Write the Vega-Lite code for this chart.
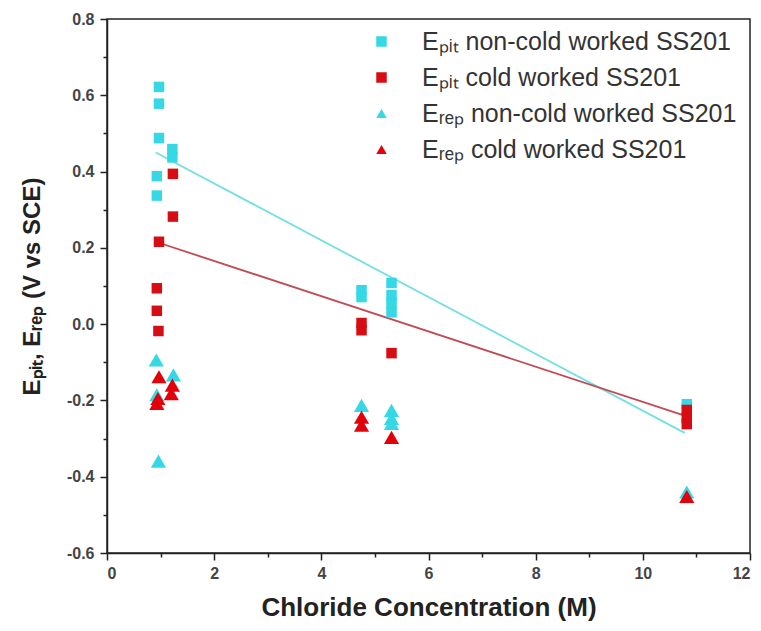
{
  "$schema": "https://vega.github.io/schema/vega-lite/v6.json",
  "autosize": {"type": "none"},
  "padding": {"left": 107, "top": 19, "right": 11, "bottom": 78},
  "width": 643,
  "height": 534,
  "background": "white",
  "config": {
    "view": {"stroke": "#222", "strokeWidth": 1.5},
    "axis": {"grid": false, "domainColor": "#222", "domainWidth": 1.5, "tickColor": "#222", "tickWidth": 1.5, "labelColor": "#444", "labelFont": "Liberation Sans", "labelFontWeight": "bold", "labelFontSize": 16, "titleFont": "Liberation Sans", "titleFontWeight": "bold", "titleColor": "#222"},
    "legend": {"orient": "none", "legendX": 262, "legendY": 10, "title": null, "labelFont": "Liberation Sans", "labelFontSize": 25, "labelColor": "#333", "labelOffset": 28, "rowPadding": 10, "symbolSize": 110, "symbolStrokeWidth": 0, "labelLimit": 400}
  },
  "datasets": {
    "pts": [
      {"x": 0.97, "y": 0.622, "series": "Eₚᵢₜ non-cold worked SS201"},
      {"x": 0.97, "y": 0.578, "series": "Eₚᵢₜ non-cold worked SS201"},
      {"x": 0.97, "y": 0.488, "series": "Eₚᵢₜ non-cold worked SS201"},
      {"x": 0.93, "y": 0.388, "series": "Eₚᵢₜ non-cold worked SS201"},
      {"x": 0.93, "y": 0.337, "series": "Eₚᵢₜ non-cold worked SS201"},
      {"x": 1.22, "y": 0.459, "series": "Eₚᵢₜ non-cold worked SS201"},
      {"x": 1.22, "y": 0.437, "series": "Eₚᵢₜ non-cold worked SS201"},
      {"x": 4.75, "y": 0.089, "series": "Eₚᵢₜ non-cold worked SS201"},
      {"x": 4.75, "y": 0.071, "series": "Eₚᵢₜ non-cold worked SS201"},
      {"x": 5.31, "y": 0.108, "series": "Eₚᵢₜ non-cold worked SS201"},
      {"x": 5.31, "y": 0.076, "series": "Eₚᵢₜ non-cold worked SS201"},
      {"x": 5.31, "y": 0.055, "series": "Eₚᵢₜ non-cold worked SS201"},
      {"x": 5.31, "y": 0.031, "series": "Eₚᵢₜ non-cold worked SS201"},
      {"x": 10.82, "y": -0.21, "series": "Eₚᵢₜ non-cold worked SS201"},
      {"x": 1.23, "y": 0.394, "series": "Eₚᵢₜ cold worked SS201"},
      {"x": 1.23, "y": 0.282, "series": "Eₚᵢₜ cold worked SS201"},
      {"x": 0.97, "y": 0.216, "series": "Eₚᵢₜ cold worked SS201"},
      {"x": 0.93, "y": 0.094, "series": "Eₚᵢₜ cold worked SS201"},
      {"x": 0.93, "y": 0.035, "series": "Eₚᵢₜ cold worked SS201"},
      {"x": 0.96, "y": -0.018, "series": "Eₚᵢₜ cold worked SS201"},
      {"x": 4.75, "y": 0.003, "series": "Eₚᵢₜ cold worked SS201"},
      {"x": 4.75, "y": -0.016, "series": "Eₚᵢₜ cold worked SS201"},
      {"x": 5.31, "y": -0.076, "series": "Eₚᵢₜ cold worked SS201"},
      {"x": 10.82, "y": -0.225, "series": "Eₚᵢₜ cold worked SS201"},
      {"x": 10.82, "y": -0.245, "series": "Eₚᵢₜ cold worked SS201"},
      {"x": 10.82, "y": -0.262, "series": "Eₚᵢₜ cold worked SS201"},
      {"x": 0.92, "y": -0.094, "series": "Eᵣₑₚ non-cold worked SS201"},
      {"x": 1.24, "y": -0.133, "series": "Eᵣₑₚ non-cold worked SS201"},
      {"x": 0.93, "y": -0.185, "series": "Eᵣₑₚ non-cold worked SS201"},
      {"x": 0.96, "y": -0.359, "series": "Eᵣₑₚ non-cold worked SS201"},
      {"x": 4.75, "y": -0.213, "series": "Eᵣₑₚ non-cold worked SS201"},
      {"x": 5.31, "y": -0.226, "series": "Eᵣₑₚ non-cold worked SS201"},
      {"x": 5.31, "y": -0.247, "series": "Eᵣₑₚ non-cold worked SS201"},
      {"x": 5.31, "y": -0.26, "series": "Eᵣₑₚ non-cold worked SS201"},
      {"x": 10.82, "y": -0.44, "series": "Eᵣₑₚ non-cold worked SS201"},
      {"x": 0.97, "y": -0.138, "series": "Eᵣₑₚ cold worked SS201"},
      {"x": 1.22, "y": -0.16, "series": "Eᵣₑₚ cold worked SS201"},
      {"x": 1.2, "y": -0.182, "series": "Eᵣₑₚ cold worked SS201"},
      {"x": 0.95, "y": -0.195, "series": "Eᵣₑₚ cold worked SS201"},
      {"x": 0.93, "y": -0.208, "series": "Eᵣₑₚ cold worked SS201"},
      {"x": 4.75, "y": -0.244, "series": "Eᵣₑₚ cold worked SS201"},
      {"x": 4.75, "y": -0.265, "series": "Eᵣₑₚ cold worked SS201"},
      {"x": 5.31, "y": -0.297, "series": "Eᵣₑₚ cold worked SS201"},
      {"x": 10.82, "y": -0.452, "series": "Eᵣₑₚ cold worked SS201"}
    ],
    "fitNon": [
      {"x": 0.91, "y": 0.45},
      {"x": 10.78, "y": -0.285}
    ],
    "fitCold": [
      {"x": 0.91, "y": 0.216},
      {"x": 10.78, "y": -0.24}
    ]
  },
  "resolve": {"axis": {"x": "independent", "y": "independent"}},
  "layer": [
    {
      "data": {"name": "fitNon"},
      "mark": {"type": "line", "strokeWidth": 1.8, "color": "#72e0e3"},
      "encoding": {
        "x": {"field": "x", "type": "quantitative", "scale": {"domain": [0, 12], "nice": false},
              "axis": {"orient": "bottom", "values": [1, 3, 5, 7, 9, 11], "labels": false, "tickSize": 4, "domain": false, "title": null}},
        "y": {"field": "y", "type": "quantitative", "scale": {"domain": [-0.6, 0.8], "nice": false, "zero": false},
              "axis": {"orient": "left", "values": [-0.5, -0.3, -0.1, 0.1, 0.3, 0.5, 0.7], "labels": false, "tickSize": 4, "domain": false, "title": null}}
      }
    },
    {
      "data": {"name": "fitCold"},
      "mark": {"type": "line", "strokeWidth": 1.8, "color": "#c24a55"},
      "encoding": {
        "x": {"field": "x", "type": "quantitative", "axis": null},
        "y": {"field": "y", "type": "quantitative", "axis": null}
      }
    },
    {
      "data": {"name": "pts"},
      "transform": [{"filter": "indexof(datum.series, 'ₚᵢₜ') >= 0"}],
      "mark": {"type": "point", "filled": true, "opacity": 1, "size": 110},
      "encoding": {
        "x": {"field": "x", "type": "quantitative", "scale": {"domain": [0, 12], "nice": false},
              "axis": {"orient": "bottom", "values": [0, 2, 4, 6, 8, 10, 12], "tickSize": 7, "labelPadding": 5, "title": "Chloride Concentration (M)", "titleFontSize": 26, "titlePadding": 13}},
        "y": {"field": "y", "type": "quantitative", "scale": {"domain": [-0.6, 0.8], "nice": false, "zero": false},
              "axis": {"orient": "left", "values": [-0.6, -0.4, -0.2, 0, 0.2, 0.4, 0.6, 0.8], "labelExpr": "replace(format(datum.value, '.1f'), '−', '-')", "tickSize": 7, "labelPadding": 6, "title": "Eₚᵢₜ, Eᵣₑₚ (V vs SCE)", "titleFontSize": 24, "titlePadding": 22}},
        "color": {"field": "series", "type": "nominal",
                  "scale": {"domain": ["Eₚᵢₜ non-cold worked SS201", "Eₚᵢₜ cold worked SS201", "Eᵣₑₚ non-cold worked SS201", "Eᵣₑₚ cold worked SS201"], "range": ["#35d8e4", "#d60d12", "#35d8e4", "#e3000b"]}},
        "shape": {"field": "series", "type": "nominal",
                  "scale": {"domain": ["Eₚᵢₜ non-cold worked SS201", "Eₚᵢₜ cold worked SS201", "Eᵣₑₚ non-cold worked SS201", "Eᵣₑₚ cold worked SS201"], "range": ["square", "square", "triangle-up", "triangle-up"]}}
      }
    },
    {
      "data": {"name": "pts"},
      "transform": [{"filter": "indexof(datum.series, 'ᵣₑₚ') >= 0"}],
      "mark": {"type": "point", "filled": true, "opacity": 1, "size": 230},
      "encoding": {
        "x": {"field": "x", "type": "quantitative", "axis": null},
        "y": {"field": "y", "type": "quantitative", "axis": null},
        "color": {"field": "series", "type": "nominal"},
        "shape": {"field": "series", "type": "nominal"}
      }
    }
  ]
}
